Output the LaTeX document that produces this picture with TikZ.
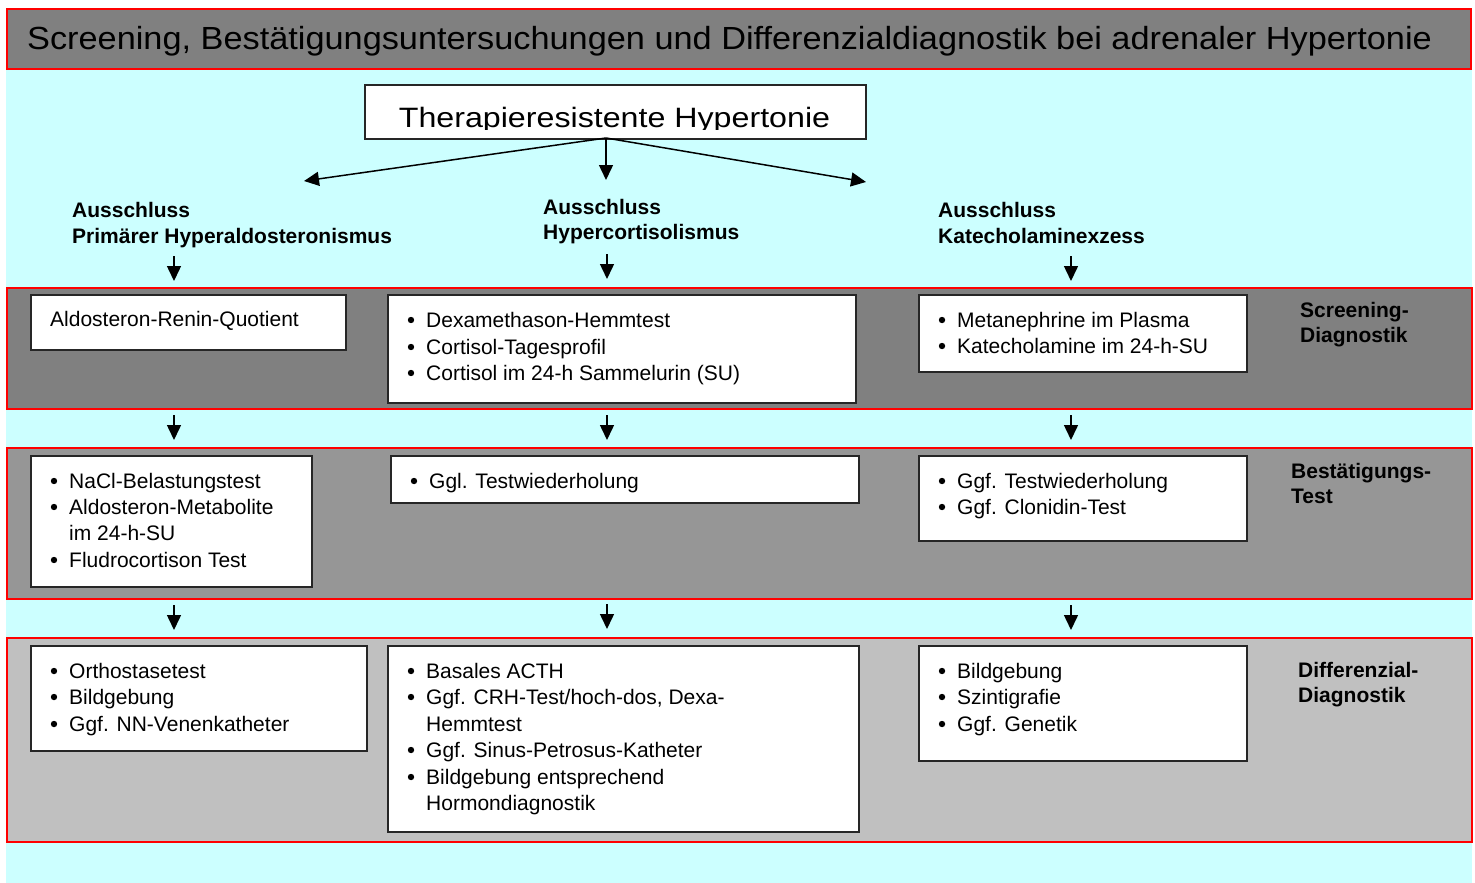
\documentclass[tikz,border=0pt]{standalone}
\usepackage{fontspec}
\setmainfont{Liberation Sans}
\usetikzlibrary{arrows.meta}
\definecolor{bgcyan}{HTML}{CCFFFF}
\definecolor{grayA}{HTML}{808080}
\definecolor{grayB}{HTML}{969696}
\definecolor{grayC}{HTML}{C0C0C0}
\newcommand\bitem[4]{\node[txt] (#1) at (#2,#3) {#4};
  \fill ([shift={(-15,-7)}]#1.base west) circle[radius=3.2];}
\begin{document}
\begin{tikzpicture}[x=1pt,y=-1pt,
  band/.style={draw=red,line width=2pt,anchor=north west,inner sep=0pt},
  wbox/.style={draw=black!85,line width=1.8pt,fill=white,inner sep=0pt,anchor=north west},
  txt/.style={anchor=base west,inner sep=0pt,font=\fontsize{21}{24}\selectfont},
  hdr/.style={anchor=base west,inner sep=0pt,font=\fontsize{21}{24}\selectfont\bfseries},
  arr/.style={line width=1.5pt,-{Triangle[length=15pt,width=14pt]}}]
\useasboundingbox (0,0) rectangle (1475,883);
\fill[white] (0,0) rectangle (1475,883);
\fill[bgcyan] (6,68) rectangle (1472,883);

% title
\node[band,fill=grayA,minimum width=1464pt,minimum height=60pt] (title) at (6,8) {};
\node[anchor=base west,inner sep=0pt] (titletext) at (27,50)
  {\scalebox{1.072}[1]{\fontsize{32}{36}\selectfont Screening, Bestätigungsuntersuchungen und Differenzialdiagnostik bei adrenaler Hypertonie}};

% top box
\node[wbox,minimum width=501pt,minimum height=54pt] (top) at (364,84) {};
\begin{scope}
\clip (364,84) rectangle (865,129);
\node[anchor=base,inner sep=0pt] (toptext) at (614.5,127)
  {\scalebox{1.15}[1]{\fontsize{28}{30}\selectfont Therapieresistente Hypertonie}};
\end{scope}

\coordinate (ts) at (606,138);
\coordinate (tl) at (304,181);
\coordinate (tm) at (606,180);
\coordinate (tr) at (866,182);
\draw[arr] (ts) -- (tl);
\draw[arr] (ts) -- (tm);
\draw[arr] (ts) -- (tr);

% headers
\node[hdr] (h1a) at (72,217) {Ausschluss};
\node[hdr] (h1b) at (72,243) {Primärer Hyperaldosteronismus};
\node[hdr] (h2a) at (543,214) {Ausschluss};
\node[hdr] (h2b) at (543,239) {Hypercortisolismus};
\node[hdr] (h3a) at (938,217) {Ausschluss};
\node[hdr] (h3b) at (938,243) {Katecholaminexzess};

% arrows to screening
\coordinate (a1s) at (174,256); \coordinate (a1e) at (174,281);
\coordinate (a2s) at (607,254); \coordinate (a2e) at (607,279);
\coordinate (a3s) at (1071,256); \coordinate (a3e) at (1071,281);
\draw[arr] (a1s) -- (a1e);
\draw[arr] (a2s) -- (a2e);
\draw[arr] (a3s) -- (a3e);

% bands
\node[band,fill=grayA,minimum width=1465pt,minimum height=121pt] (scr) at (6,287) {};
\node[band,fill=grayB,minimum width=1465pt,minimum height=151pt] (bst) at (6,447) {};
\node[band,fill=grayC,minimum width=1465pt,minimum height=204pt] (dif) at (6,637) {};

% band labels
\node[hdr] (l1a) at (1300,317) {Screening-};
\node[hdr] (l1b) at (1300,342) {Diagnostik};
\node[hdr] (l2a) at (1291,478) {Bestätigungs-};
\node[hdr] (l2b) at (1291,503) {Test};
\node[hdr] (l3a) at (1298,677) {Differenzial-};
\node[hdr] (l3b) at (1298,702) {Diagnostik};

% screening boxes
\node[wbox,minimum width=315pt,minimum height=55pt] (A1) at (30,294) {};
\node[txt] (A1t) at (50,326) {Aldosteron-Renin-Quotient};
\node[wbox,minimum width=468pt,minimum height=108pt] (B1) at (387,294) {};
\bitem{B1a}{426}{327}{Dexamethason-Hemmtest}
\bitem{B1b}{426}{354}{Cortisol-Tagesprofil}
\bitem{B1c}{426}{380}{Cortisol im 24-h Sammelurin (SU)}
\node[wbox,minimum width=328pt,minimum height=77pt] (C1) at (918,294) {};
\bitem{C1a}{957}{327}{Metanephrine im Plasma}
\bitem{C1b}{957}{353}{Katecholamine im 24-h-SU}

% arrows to confirmation
\coordinate (b1s) at (174,415); \coordinate (b1e) at (174,440);
\coordinate (b2s) at (607,415); \coordinate (b2e) at (607,440);
\coordinate (b3s) at (1071,415); \coordinate (b3e) at (1071,440);
\draw[arr] (b1s) -- (b1e);
\draw[arr] (b2s) -- (b2e);
\draw[arr] (b3s) -- (b3e);

% confirmation boxes
\node[wbox,minimum width=281pt,minimum height=131pt] (A2) at (30,455) {};
\bitem{A2a}{69}{488}{NaCl-Belastungstest}
\bitem{A2b}{69}{514}{Aldosteron-Metabolite}
\node[txt] (A2c) at (69,540) {im 24-h-SU};
\bitem{A2d}{69}{567}{Fludrocortison Test}
\node[wbox,minimum width=468pt,minimum height=47pt] (B2) at (390,455) {};
\bitem{B2a}{429}{488}{Ggl. Testwiederholung}
\node[wbox,minimum width=328pt,minimum height=85pt] (C2) at (918,455) {};
\bitem{C2a}{957}{488}{Ggf. Testwiederholung}
\bitem{C2b}{957}{514}{Ggf. Clonidin-Test}

% arrows to differential
\coordinate (c1s) at (174,605); \coordinate (c1e) at (174,630);
\coordinate (c2s) at (607,604); \coordinate (c2e) at (607,629);
\coordinate (c3s) at (1071,605); \coordinate (c3e) at (1071,630);
\draw[arr] (c1s) -- (c1e);
\draw[arr] (c2s) -- (c2e);
\draw[arr] (c3s) -- (c3e);

% differential boxes
\node[wbox,minimum width=336pt,minimum height=105pt] (A3) at (30,645) {};
\bitem{A3a}{69}{678}{Orthostasetest}
\bitem{A3b}{69}{704}{Bildgebung}
\bitem{A3c}{69}{731}{Ggf. NN-Venenkatheter}
\node[wbox,minimum width=471pt,minimum height=186pt] (B3) at (387,645) {};
\bitem{B3a}{426}{678}{Basales ACTH}
\bitem{B3b}{426}{704}{Ggf. CRH-Test/hoch-dos, Dexa-}
\node[txt] (B3c) at (426,731) {Hemmtest};
\bitem{B3d}{426}{757}{Ggf. Sinus-Petrosus-Katheter}
\bitem{B3e}{426}{784}{Bildgebung entsprechend}
\node[txt] (B3f) at (426,810) {Hormondiagnostik};
\node[wbox,minimum width=328pt,minimum height=115pt] (C3) at (918,645) {};
\bitem{C3a}{957}{678}{Bildgebung}
\bitem{C3b}{957}{704}{Szintigrafie}
\bitem{C3c}{957}{731}{Ggf. Genetik}
\end{tikzpicture}
\end{document}
